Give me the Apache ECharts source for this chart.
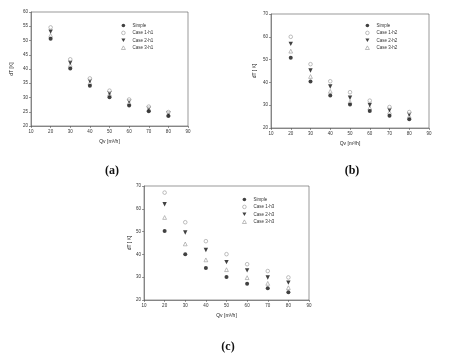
<!DOCTYPE html>
<html><head><meta charset="utf-8">
<script src="https://cdn.jsdelivr.net/npm/echarts@6/dist/echarts.min.js"></script>
<style>html,body{margin:0;padding:0;background:#fff}#c{width:451px;height:356px}</style>
</head><body><div id="c"></div>
<script>
var qv = [20, 30, 40, 50, 60, 70, 80];
var aSimple = [50.6, 40.2, 34.1, 30.1, 27.2, 25.2, 23.5];
var aCase1 = [54.6, 43.4, 36.7, 32.4, 29.3, 26.8, 24.9];
var aCase2 = [53.1, 42.2, 35.8, 31.5, 28.7, 26.2, 24.5];
var aCase3 = [51.8, 41.3, 35.1, 31.1, 28.1, 25.9, 24.1];
var bSimple = [50.8, 40.4, 34.2, 30.3, 27.5, 25.4, 23.8];
var bCase1 = [60.0, 48.0, 40.5, 35.7, 32.0, 29.2, 27.0];
var bCase2 = [56.9, 45.2, 38.2, 33.3, 30.1, 27.9, 25.9];
var bCase3 = [53.7, 42.6, 36.1, 31.4, 28.8, 26.9, 25.1];
var cSimple = [50.3, 40.1, 34.0, 30.1, 27.1, 25.1, 23.4];
var cCase1 = [67.1, 54.1, 45.8, 40.1, 35.7, 32.7, 29.9];
var cCase2 = [62.0, 49.6, 41.9, 36.6, 33.0, 29.9, 27.6];
var cCase3 = [56.2, 44.6, 37.6, 33.3, 29.8, 27.3, 25.4];
var namesA = ['Simple', 'Case 1-h1', 'Case 2-h1', 'Case 3-h1'];
var namesB = ['Simple', 'Case 1-h2', 'Case 2-h2', 'Case 3-h2'];
var namesC = ['Simple', 'Case 1-h3', 'Case 2-h3', 'Case 3-h3'];
var panelLabels = ['(a)', '(b)', '(c)'];
var yLabels = ['dT [K]', 'dT [ K]', 'dT [ K]'];
var xLabel = 'Qv [m\u00b3/h]';

function pairs(v) { return qv.map(function (x, i) { return [x, v[i]]; }); }
var invTri = 'path://M0,0 L10,0 L5,9 Z';
var styles = [
  { symbol: 'circle', color: '#111', border: '#111', size: 4, bw: 0 },
  { symbol: 'circle', color: '#fff', border: '#999', size: 3.6, bw: 0.8 },
  { symbol: invTri, color: '#111', border: '#111', size: 4.4, bw: 0 },
  { symbol: 'triangle', color: '#fff', border: '#999', size: 3.8, bw: 0.8 }
];
function mkSeries(names, arrs, idx) {
  return arrs.map(function (a, k) {
    return {
      type: 'scatter', name: names[k], xAxisIndex: idx, yAxisIndex: idx,
      symbol: styles[k].symbol, symbolSize: styles[k].size,
      itemStyle: { color: styles[k].color, borderColor: styles[k].border, borderWidth: styles[k].bw },
      data: pairs(a), z: 10 - k
    };
  });
}
function legendData(names) {
  return names.map(function (n, k) {
    return { name: n, icon: styles[k].symbol,
      itemStyle: { color: styles[k].color, borderColor: styles[k].border, borderWidth: styles[k].bw } };
  });
}
var grids = [
  { left: 31, top: 12, width: 157, height: 114 },
  { left: 271, top: 14, width: 158, height: 114 },
  { left: 144, top: 186, width: 165, height: 114 }
];
var yRanges = [[20, 60, 5], [20, 70, 10], [20, 70, 10]];
var yGaps = [17, 14, 12];
var lab = { fontSize: 4.5, color: '#333', fontFamily: 'Liberation Sans', margin: 3 };
var ttl = { fontFamily: 'Liberation Serif', fontWeight: 'bold', fontSize: 12, color: '#111' };
var opt = {
  animation: false,
  backgroundColor: '#fff',
  title: [
    { text: panelLabels[0], left: 107, top: 160, textAlign: 'center', textStyle: ttl },
    { text: panelLabels[1], left: 347, top: 160, textAlign: 'center', textStyle: ttl },
    { text: panelLabels[2], left: 223, top: 336, textAlign: 'center', textStyle: ttl }
  ],
  grid: grids.map(function (g) { return Object.assign({ show: true, borderColor: '#555', borderWidth: 0.6, backgroundColor: '#fff' }, g); }),
  xAxis: [0, 1, 2].map(function (i) {
    return {
      type: 'value', gridIndex: i, min: 10, max: 90, interval: 10,
      name: xLabel, nameLocation: 'middle', nameGap: 13,
      nameTextStyle: { fontSize: 5, color: '#222', fontFamily: 'Liberation Sans' },
      axisLine: { lineStyle: { color: '#555', width: 0.6 } },
      axisTick: { length: 2, lineStyle: { color: '#555', width: 0.6 } },
      axisLabel: lab, splitLine: { show: false }
    };
  }),
  yAxis: [0, 1, 2].map(function (i) {
    return {
      type: 'value', gridIndex: i, min: yRanges[i][0], max: yRanges[i][1], interval: yRanges[i][2],
      name: yLabels[i], nameLocation: 'middle', nameGap: yGaps[i], nameRotate: 90,
      nameTextStyle: { fontSize: 5, color: '#222', fontFamily: 'Liberation Sans' },
      axisLine: { show: true, lineStyle: { color: '#555', width: 0.6 } },
      axisTick: { show: true, length: 2, lineStyle: { color: '#555', width: 0.6 } },
      axisLabel: lab, splitLine: { show: false }
    };
  }),
  legend: [
    { data: legendData(namesA), left: 121, top: 23 },
    { data: legendData(namesB), left: 365, top: 23 },
    { data: legendData(namesC), left: 242, top: 197 }
  ].map(function (l) {
    return Object.assign({ orient: 'vertical', itemWidth: 4, itemHeight: 3.6, itemGap: 2.4, padding: 0,
      textStyle: { fontSize: 4.5, color: '#333', fontFamily: 'Liberation Sans', padding: [0, 0, 0, 2] }, selectedMode: false }, l);
  }),
  series: [].concat(
    mkSeries(namesA, [aSimple, aCase1, aCase2, aCase3], 0),
    mkSeries(namesB, [bSimple, bCase1, bCase2, bCase3], 1),
    mkSeries(namesC, [cSimple, cCase1, cCase2, cCase3], 2)
  )
};
var chart = echarts.init(document.getElementById('c'), null, { renderer: 'canvas' });
chart.setOption(opt);
</script></body></html>
